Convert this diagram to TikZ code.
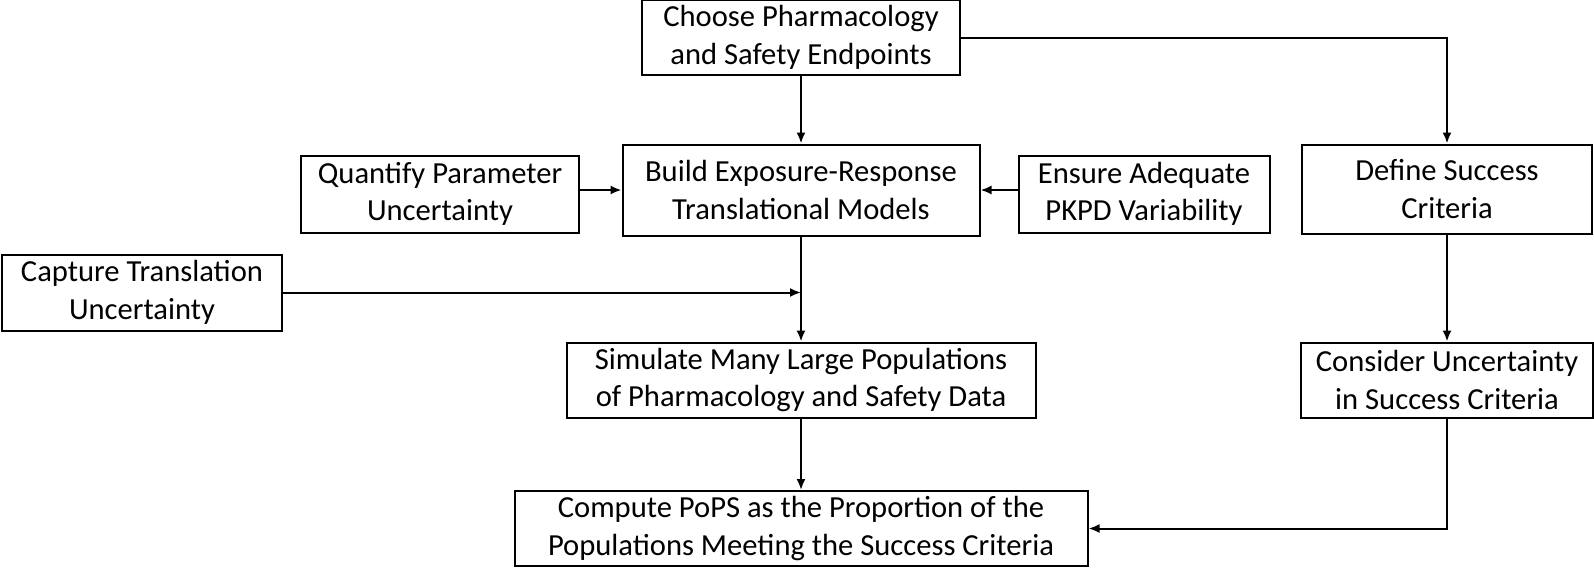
\documentclass[tikz,border=0pt]{standalone}
\usepackage{fontspec}
\setmainfont{Carlito}
\usepackage{tikz}
\usetikzlibrary{arrows.meta}

\begin{document}
\begin{tikzpicture}[x = 0.5pt, y = -0.5pt,
  box/.style = {draw, line width = 1pt, align = center, inner sep = 0pt,
    font = \fontsize{15.3}{18.8}\selectfont},
  arr/.style = {line width = 1pt, -{Latex[length = 5.5pt, width = 4.5pt]}}]
\useasboundingbox (0,0) rectangle (1594,575);
% main column
\node [box, minimum width = 159pt, minimum height = 37.5pt] (choose) at (801,37.6)
  {Choose Pharmacology\\and Safety Endpoints};
\node [box, minimum width = 178.5pt, minimum height = 45.5pt] (build) at (801,190)
  {Build Exposure-Response\\Translational Models};
\node [box, minimum width = 234.5pt, minimum height = 37.5pt] (sim) at (801,380)
  {Simulate Many Large Populations\\of Pharmacology and Safety Data};
\node [box, minimum width = 286.5pt, minimum height = 37.5pt] (pops) at (801,528.5)
  {Compute PoPS as the Proportion of the\\Populations Meeting the Success Criteria};
% inputs to the model
\node [box, minimum width = 139pt, minimum height = 38.5pt] (param) at (440,194)
  {Quantify Parameter\\Uncertainty};
\node [box, minimum width = 125.5pt, minimum height = 38.5pt] (pkpd) at (1144,194)
  {Ensure Adequate\\PKPD Variability};
\node [box, minimum width = 140pt, minimum height = 38pt] (transl) at (142,292.5)
  {Capture Translation\\Uncertainty};
% success criteria column
\node [box, minimum width = 145pt, minimum height = 44.5pt] (define) at (1447,189)
  {Define Success\\Criteria};
\node [box, minimum width = 146pt, minimum height = 37.5pt] (consider) at (1447,380)
  {Consider Uncertainty\\in Success Criteria};

\coordinate (join) at (build.south |- transl.east);
\draw [arr] (choose) -- (build);
\draw [arr] (param.east |- build.west) -- (build.west);
\draw [arr] (pkpd.west |- build.east) -- (build.east);
\draw [arr] (build) -- (sim);
\draw [arr] (transl.east) -- (join);
\draw [arr] (sim) -- (pops);
\draw [arr] (choose.east) -| (define.north);
\draw [arr] (define) -- (consider);
\draw [arr] (consider.south) |- (pops.east);
\end{tikzpicture}
\end{document}
